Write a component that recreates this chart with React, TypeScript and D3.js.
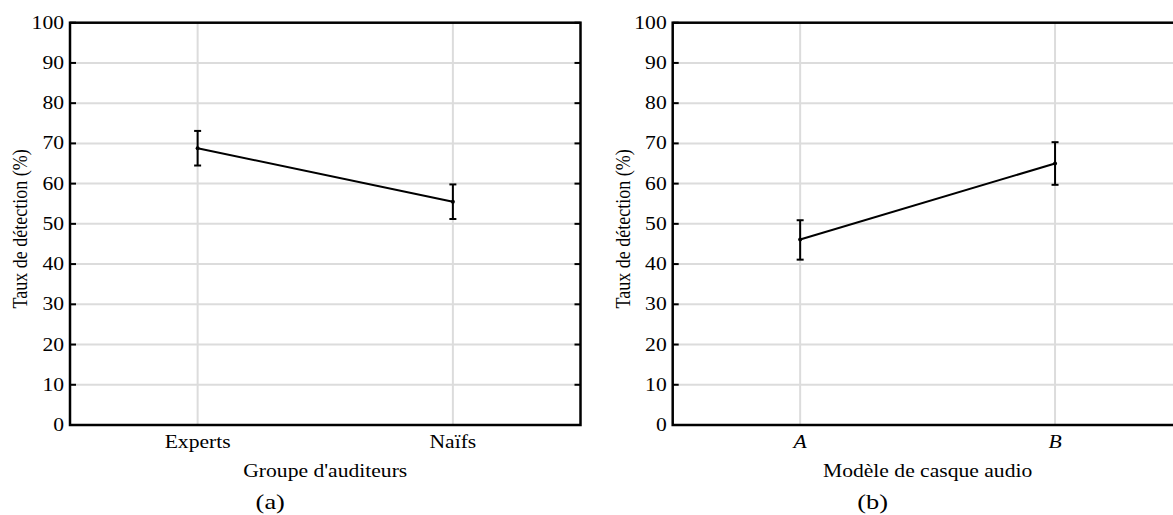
import React from "react";
import * as d3 from "d3";

// Detection rates (%) with error bounds
const groupCategories = ["Experts", "Naïfs"];
const groupMeans = [68.8, 55.5];
const groupLow = [64.5, 51.2];
const groupHigh = [73.1, 59.8];

const headsetCategories = ["A", "B"];
const headsetMeans = [46.1, 65.0];
const headsetLow = [41.1, 59.7];
const headsetHigh = [50.9, 70.3];

const yTicks = [0, 10, 20, 30, 40, 50, 60, 70, 80, 90, 100];

const W = 1173;
const H = 515;
const FONT = "'Liberation Serif', 'Times New Roman', serif";
const FS = 18;
const SX = 1.2;

type PanelProps = {
  left: number;
  right: number;
  categories: string[];
  means: number[];
  low: number[];
  high: number[];
  xLabel: string;
  caption: string;
  italicTicks?: boolean;
};

function SText({ x, y, anchor, children, italic, size = FS }: any) {
  return (
    <text
      transform={`translate(${x},${y}) scale(${SX},1)`}
      textAnchor={anchor}
      fontFamily={FONT}
      fontSize={size}
      fontStyle={italic ? "italic" : "normal"}
      fill="#000"
    >
      {children}
    </text>
  );
}

function Panel({ left, right, categories, means, low, high, xLabel, caption, italicTicks }: PanelProps) {
  const top = 22.7;
  const bottom = 425;
  const x = d3.scalePoint<string>().domain(categories).range([left, right]).padding(0.5);
  const y = d3.scaleLinear().domain([0, 100]).range([bottom, top]);
  const line = d3
    .line<number>()
    .x((_, i) => x(categories[i]) as number)
    .y((d) => y(d));
  const mid = (left + right) / 2;
  const grid = "#dcdcdc";
  return (
    <g>
      {/* grid */}
      {yTicks
        .filter((t) => t > 0 && t < 100)
        .map((t) => (
          <line key={"h" + t} x1={left} x2={right} y1={y(t)} y2={y(t)} stroke={grid} strokeWidth={2} />
        ))}
      {categories.map((c) => (
        <line key={"v" + c} x1={x(c)} x2={x(c)} y1={top} y2={bottom} stroke={grid} strokeWidth={2} />
      ))}
      {/* data line */}
      <path d={line(means) || ""} fill="none" stroke="#000" strokeWidth={2} />
      {/* error bars */}
      {categories.map((c, i) => {
        const cx = x(c) as number;
        return (
          <g key={"e" + c} stroke="#000" strokeWidth={2}>
            <line x1={cx} x2={cx} y1={y(low[i])} y2={y(high[i])} />
            <line x1={cx - 3.5} x2={cx + 3.5} y1={y(low[i])} y2={y(low[i])} />
            <line x1={cx - 3.5} x2={cx + 3.5} y1={y(high[i])} y2={y(high[i])} />
            <circle cx={cx} cy={y(means[i])} r={2} fill="#000" stroke="none" />
          </g>
        );
      })}
      {/* ticks on both vertical spines */}
      {yTicks.map((t) => (
        <g key={"t" + t} stroke="#000" strokeWidth={2}>
          <line x1={left} x2={left + 6} y1={y(t)} y2={y(t)} />
          <line x1={right} x2={right - 6} y1={y(t)} y2={y(t)} />
        </g>
      ))}
      {/* frame */}
      <rect x={left} y={top} width={right - left} height={bottom - top} fill="none" stroke="#000" strokeWidth={2.5} />
      {/* y tick labels */}
      {yTicks.map((t) => (
        <SText key={"l" + t} x={left - 6} y={y(t) + 6} anchor="end">
          {t}
        </SText>
      ))}
      {/* x tick labels */}
      {categories.map((c) => (
        <SText key={"xl" + c} x={x(c)} y={448} anchor="middle" italic={italicTicks}>
          {c}
        </SText>
      ))}
      <SText x={mid} y={477} anchor="middle">
        {xLabel}
      </SText>
      <SText x={mid - 55} y={509} anchor="middle" size={22}>
        {caption}
      </SText>
      <text
        transform={`translate(${left - 43},${(top + bottom) / 2 + 5}) scale(${SX},1) rotate(-90)`}
        textAnchor="middle"
        fontFamily={FONT}
        fontSize={FS}
        fill="#000"
      >
        Taux de détection (%)
      </text>
    </g>
  );
}

export default function App() {
  return (
    <svg
      width={W}
      height={H}
      viewBox={`0 0 ${W} ${H}`}
      style={{ position: "absolute", left: 0, top: 0, background: "#fff" }}
    >
      <Panel
        left={70}
        right={580.5}
        categories={groupCategories}
        means={groupMeans}
        low={groupLow}
        high={groupHigh}
        xLabel="Groupe d'auditeurs"
        caption="(a)"
      />
      <Panel
        left={672.7}
        right={1182.5}
        categories={headsetCategories}
        means={headsetMeans}
        low={headsetLow}
        high={headsetHigh}
        xLabel="Modèle de casque audio"
        caption="(b)"
        italicTicks
      />
    </svg>
  );
}
